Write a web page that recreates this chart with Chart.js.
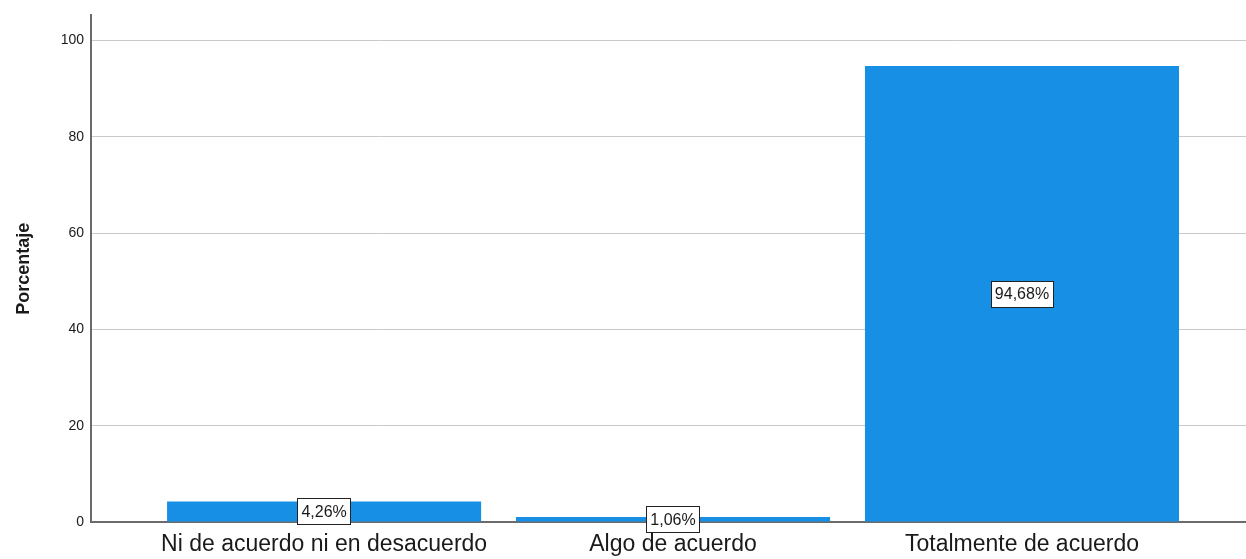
<!DOCTYPE html>
<html>
<head>
<meta charset="utf-8">
<script src="https://cdn.jsdelivr.net/npm/chart.js@4/dist/chart.umd.min.js"></script>
<style>
  html, body { margin: 0; padding: 0; background: #fff; }
  #wrap { width: 1246px; height: 559px; }
</style>
</head>
<body>
<div id="wrap"><canvas id="chart"></canvas></div>
<script>
const categories = ["Ni de acuerdo ni en desacuerdo", "Algo de acuerdo", "Totalmente de acuerdo"];
const percentages = [4.26, 1.06, 94.68];
const percentLabels = ["4,26%", "1,06%", "94,68%"];
const yTicks = [0, 20, 40, 60, 80, 100];

const FONT = "'Liberation Sans', Arial, sans-serif";
const textColor = "#1a1a1a";

// boxed value labels in the middle of each bar
const boxLabels = {
  id: "boxLabels",
  afterDatasetsDraw(chart) {
    const ctx = chart.ctx;
    const meta = chart.getDatasetMeta(0);
    ctx.save();
    ctx.font = "16px " + FONT;
    ctx.textAlign = "center";
    ctx.textBaseline = "middle";
    meta.data.forEach((bar, i) => {
      const txt = percentLabels[i];
      const cx = bar.x;
      const cy = (bar.y + bar.base) / 2;
      const w = ctx.measureText(txt).width + 8;
      const h = 26;
      ctx.fillStyle = "#fff";
      ctx.fillRect(Math.round(cx - w / 2) + 0.5, Math.round(cy - h / 2) + 0.5, Math.round(w), h);
      ctx.strokeStyle = "#222";
      ctx.lineWidth = 1;
      ctx.strokeRect(Math.round(cx - w / 2) + 0.5, Math.round(cy - h / 2) + 0.5, Math.round(w), h);
      ctx.fillStyle = textColor;
      ctx.fillText(txt, cx, cy + 1);
    });
    ctx.restore();
  }
};

new Chart(document.getElementById("chart"), {
  type: "bar",
  data: {
    datasets: [{
      data: percentages.map((v, i) => ({ x: i, y: v })),
      backgroundColor: "#178fe5",
      borderWidth: 0,
      barPercentage: 0.9,
      categoryPercentage: 1
    }]
  },
  options: {
    responsive: true,
    maintainAspectRatio: false,
    animation: false,
    layout: { padding: { top: 14, right: 0, bottom: 0, left: 0 } },
    plugins: {
      legend: { display: false },
      tooltip: { enabled: false }
    },
    scales: {
      x: {
        type: "linear",
        min: -0.668,
        max: 2.642,
        offset: false,
        grid: { display: false, drawTicks: false, offset: false },
        border: { display: true, color: "#6b6b6b", width: 2 },
        afterBuildTicks: (scale) => { scale.ticks = categories.map((c, i) => ({ value: i })); },
        afterFit: (scale) => { scale.height = 37; },
        ticks: {
          autoSkip: false,
          maxRotation: 0,
          padding: 9,
          color: textColor,
          font: { family: FONT, size: 23 },
          callback: (v) => categories[v]
        }
      },
      y: {
        min: 0,
        max: 105.2,
        grid: { color: "#c9c9c9", lineWidth: 1, drawTicks: false },
        border: { display: true, color: "#6b6b6b", width: 2 },
        afterBuildTicks: (scale) => { scale.ticks = yTicks.map(v => ({ value: v })); },
        afterFit: (scale) => { scale.width = 91; },
        ticks: {
          padding: 7,
          color: textColor,
          font: { family: FONT, size: 14 }
        },
        title: {
          display: true,
          text: "Porcentaje",
          color: textColor,
          padding: { top: 13, bottom: 0 },
          font: { family: FONT, size: 18, weight: "bold" }
        }
      }
    }
  },
  plugins: [boxLabels]
});
</script>
</body>
</html>
